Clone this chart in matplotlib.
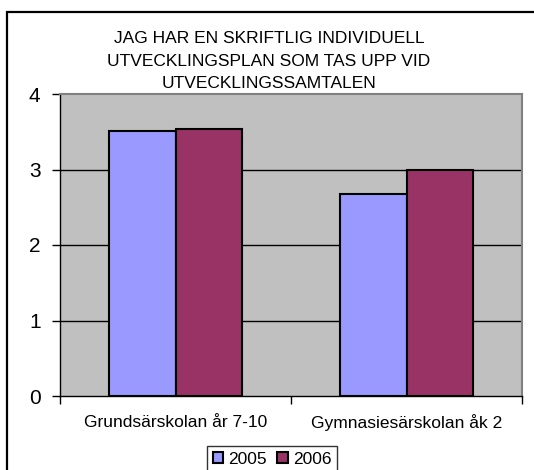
import matplotlib.pyplot as plt
from matplotlib.patches import Rectangle
import numpy as np

plt.rcParams['font.family'] = ['Liberation Sans', 'DejaVu Sans']

categories = ["Grundsärskolan år 7-10", "Gymnasiesärskolan åk 2"]
years = ["2005", "2006"]
values_2005 = [3.51, 2.68]
values_2006 = [3.54, 2.99]
yticks = [0, 1, 2, 3, 4]
title = "JAG HAR EN SKRIFTLIG INDIVIDUELL\nUTVECKLINGSPLAN SOM TAS UPP VID\nUTVECKLINGSSAMTALEN"

colors = ["#9999FF", "#993366"]

fig = plt.figure(figsize=(5.34, 4.7), dpi=100)
fig.patch.set_facecolor("white")

# outer chart frame (runs off the right and bottom edges)
fig.patches.append(Rectangle((7 / 534, -0.05), 1.1, (470 - 12) / 470 + 0.05,
                             transform=fig.transFigure, fill=False,
                             edgecolor="black", linewidth=1.6))

ax = fig.add_axes([60 / 534, 74 / 470, 462 / 534, 302 / 470])
ax.set_facecolor("#C0C0C0")

x = np.arange(len(categories))
w = 0.29
for i, (vals, yr) in enumerate(zip([values_2005, values_2006], years)):
    ax.bar(x + (i - 0.5) * w, vals, width=w, color=colors[i],
           edgecolor="black", linewidth=1.5, label=yr, zorder=3)

ax.set_xlim(-0.5, 1.5)
ax.set_ylim(0, 4)
ax.set_yticks(yticks)
ax.tick_params(axis="y", length=6, width=1, labelsize=15, pad=8)
for y in yticks[1:-1]:
    ax.axhline(y, color="black", linewidth=1, zorder=1)

ax.set_xticks([-0.5, 0.5, 1.5])
ax.set_xticklabels([])
ax.tick_params(axis="x", length=6, width=1, direction="out")
for xi, c in zip(x, categories):
    ax.text(xi, -0.35, c, ha="center", va="center", fontsize=12.5,
            transform=ax.transData)

ax.spines["top"].set_color("#808080")
ax.spines["right"].set_color("#808080")
ax.spines["top"].set_linewidth(1.5)
ax.spines["right"].set_linewidth(1.5)
ax.spines["left"].set_linewidth(1)
ax.spines["bottom"].set_linewidth(1)

fig.text(269 / 534, 1 - 61 / 470, title, ha="center", va="center",
         fontsize=12.5, linespacing=1.6)

leg = fig.legend(loc="center", bbox_to_anchor=(272 / 534, 1 - 459 / 470),
                 ncol=2, fontsize=12.5, frameon=True, fancybox=False,
                 edgecolor="black", handlelength=0.6, handleheight=0.6,
                 handletextpad=0.3, columnspacing=0.6, borderpad=0.3,
                 borderaxespad=0)
leg.get_frame().set_linewidth(1)

fig.savefig("out.png", dpi=100)
